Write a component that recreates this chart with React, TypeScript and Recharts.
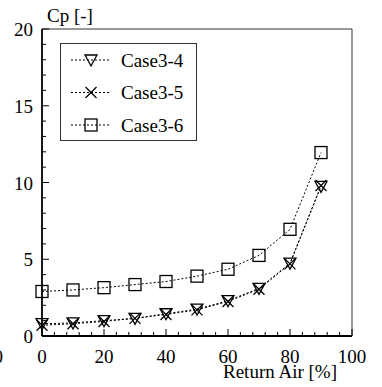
import React from "react";
import { LineChart, Line, XAxis, YAxis, Legend } from "recharts";

// Return-air ratio [%] on the x axis
const returnAir = [0, 10, 20, 30, 40, 50, 60, 70, 80, 90];
// Pressure coefficient Cp for each case
const case34 = [0.8, 0.85, 1.0, 1.15, 1.45, 1.75, 2.3, 3.1, 4.75, 9.75];
const case35 = [0.7, 0.8, 0.95, 1.15, 1.4, 1.7, 2.25, 3.05, 4.7, 9.8];
const case36 = [2.9, 3.0, 3.15, 3.35, 3.55, 3.9, 4.35, 5.25, 6.95, 11.95];

const seriesNames = ["Case3-4", "Case3-5", "Case3-6"];

// Axis ticks: minor every step, labels only on the major ones
const xTicks = [0, 4, 8, 12, 16, 20, 24, 28, 32, 36, 40, 44, 48, 52, 56, 60, 64, 68, 72, 76, 80, 84, 88, 92, 96, 100];
const xLabels = [0, 20, 40, 60, 80, 100];
const yTicks = [0, 1, 2, 3, 4, 5, 6, 7, 8, 9, 10, 11, 12, 13, 14, 15, 16, 17, 18, 19, 20];
const yLabels = [0, 5, 10, 15, 20];

const data = returnAir.map((x, i) => ({
  x,
  c34: case34[i],
  c35: case35[i],
  c36: case36[i],
}));

const SERIF = "'Liberation Serif', 'Times New Roman', serif";
const TXT: React.CSSProperties = { fontFamily: SERIF, fontSize: 19, fill: "#000" };
const W = 382;
const H = 387;

type MarkerKind = "tri" | "cross" | "square";

const Marker = ({ kind, cx, cy }: { kind: MarkerKind; cx: number; cy: number }) => {
  const s = 6;
  if (kind === "tri") {
    return (
      <polygon
        points={`${cx - s},${cy - s + 1} ${cx + s},${cy - s + 1} ${cx},${cy + s}`}
        fill="none"
        stroke="#000"
        strokeWidth={1.3}
      />
    );
  }
  if (kind === "cross") {
    return (
      <g stroke="#000" strokeWidth={1.3}>
        <line x1={cx - s + 0.5} y1={cy - s + 0.5} x2={cx + s - 0.5} y2={cy + s - 0.5} />
        <line x1={cx - s + 0.5} y1={cy + s - 0.5} x2={cx + s - 0.5} y2={cy - s + 0.5} />
      </g>
    );
  }
  return (
    <rect x={cx - s} y={cy - s} width={2 * s} height={2 * s} fill="none" stroke="#000" strokeWidth={1.3} />
  );
};

const dotFor = (kind: MarkerKind) => (props: any) => {
  const { cx, cy, index } = props;
  if (cx == null || cy == null) return <g key={index} />;
  return (
    <g key={`${kind}-${index}`}>
      <Marker kind={kind} cx={cx} cy={cy} />
    </g>
  );
};

const YTick = (props: any) => {
  const { x, y, payload } = props;
  const v = payload.value as number;
  const major = yLabels.includes(v);
  return (
    <g>
      <line x1={x} y1={y} x2={x + (major ? 7 : 4)} y2={y} stroke="#000" strokeWidth={1} />
      {major && (
        <text x={x - 9} y={y + 7} textAnchor="end" style={TXT}>
          {v}
        </text>
      )}
    </g>
  );
};

const XTick = (props: any) => {
  const { x, y, payload } = props;
  const v = payload.value as number;
  const major = xLabels.includes(v);
  return (
    <g>
      <line x1={x} y1={y} x2={x} y2={y - (major ? 7 : 4)} stroke="#000" strokeWidth={1} />
      {major && (
        <text x={x} y={y + 27} textAnchor="middle" style={TXT}>
          {v}
        </text>
      )}
    </g>
  );
};

const kindByKey: Record<string, MarkerKind> = { c34: "tri", c35: "cross", c36: "square" };

const LegendBox = (props: any) => {
  const items = (props.payload || []) as any[];
  const rowY = [17, 49.5, 82];
  return (
    <svg width={137} height={98} style={{ display: "block" }}>
      <rect x={0.5} y={0.5} width={136} height={97} fill="#fff" stroke="#333" strokeWidth={1} />
      {items.map((it, i) => (
        <g key={it.value}>
          <line x1={11} y1={rowY[i]} x2={49} y2={rowY[i]} stroke="#000" strokeWidth={1} strokeDasharray="2 2" />
          <Marker kind={kindByKey[it.dataKey]} cx={31} cy={rowY[i]} />
          <text x={61} y={rowY[i] + 6.5} style={TXT}>
            {it.value}
          </text>
        </g>
      ))}
    </svg>
  );
};

const pageCss = `
body { margin: 0; background: #fff; }
#root, #root svg, #root svg text { font-family: 'Liberation Serif', 'Times New Roman', serif !important; }
`;

export default function App() {
  return (
    <div style={{ position: "relative", width: W, height: H, background: "#fff", fontFamily: SERIF }}>
      <style>{pageCss}</style>
      <LineChart
        width={W}
        height={H}
        data={data}
        style={{ fontFamily: SERIF }}
        margin={{ top: 28, right: 29, bottom: 50, left: 41 }}
      >
        <XAxis
          xAxisId="main"
          dataKey="x"
          type="number"
          domain={[0, 100]}
          ticks={xTicks}
          interval={0}
          height={1}
          tickSize={0}
          tickMargin={0}
          tickLine={false}
          axisLine={{ stroke: "#000", strokeWidth: 1.8 }}
          tick={<XTick />}
        />
        <XAxis
          xAxisId="top"
          orientation="top"
          dataKey="x"
          type="number"
          domain={[0, 100]}
          height={1}
          tick={false}
          tickLine={false}
          axisLine={{ stroke: "#333", strokeWidth: 1 }}
        />
        <YAxis
          yAxisId="main"
          type="number"
          domain={[0, 20]}
          ticks={yTicks}
          interval={0}
          width={1}
          tickSize={0}
          tickMargin={0}
          tickLine={false}
          axisLine={{ stroke: "#000", strokeWidth: 1.8 }}
          tick={<YTick />}
        />
        <YAxis
          yAxisId="right"
          orientation="right"
          type="number"
          domain={[0, 20]}
          width={1}
          tick={false}
          tickLine={false}
          axisLine={{ stroke: "#333", strokeWidth: 1 }}
        />
        <Line
          xAxisId="main"
          yAxisId="main"
          dataKey="c34"
          name={seriesNames[0]}
          type="linear"
          stroke="#000"
          strokeWidth={1}
          strokeDasharray="2 2"
          dot={dotFor("tri")}
          activeDot={false}
          isAnimationActive={false}
        />
        <Line
          xAxisId="main"
          yAxisId="main"
          dataKey="c35"
          name={seriesNames[1]}
          type="linear"
          stroke="#000"
          strokeWidth={1}
          strokeDasharray="2 2"
          dot={dotFor("cross")}
          activeDot={false}
          isAnimationActive={false}
        />
        <Line
          xAxisId="main"
          yAxisId="main"
          dataKey="c36"
          name={seriesNames[2]}
          type="linear"
          stroke="#000"
          strokeWidth={1}
          strokeDasharray="2 2"
          dot={dotFor("square")}
          activeDot={false}
          isAnimationActive={false}
        />
        <Legend
          layout="vertical"
          align="center"
          verticalAlign="middle"
          content={<LegendBox />}
          wrapperStyle={{ position: "absolute", left: 60, top: 43, width: 137, height: 98, margin: 0 }}
        />
        <text x={47} y={22} style={TXT}>
          Cp [-]
        </text>
        <text x={280} y={378} textAnchor="middle" style={TXT}>
          Return Air [%]
        </text>
        <text x={3} y={363} textAnchor="end" style={TXT}>
          0
        </text>
      </LineChart>
    </div>
  );
}
